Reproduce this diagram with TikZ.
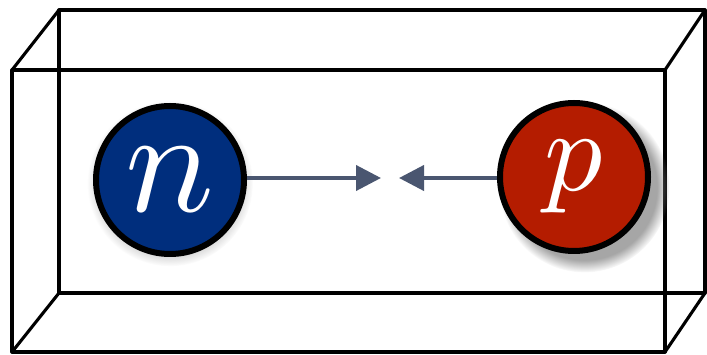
\documentclass[tikz,border=0pt]{standalone}
\usetikzlibrary{arrows.meta,shadows}
\definecolor{nblue}{RGB}{0,46,125}
\definecolor{pred}{RGB}{180,28,0}
\definecolor{arrowc}{RGB}{74,86,112}
\tikzset{
  boxline/.style={line width=3.1pt, line cap=round, line join=round},
  particle/.style={circle, draw=black, line width=6pt, minimum size=148pt, inner sep=0pt, text=white},
  force/.style={arrowc, line width=4pt, -{Triangle[length=25pt,width=25pt]}}
}
\begin{document}
\begin{tikzpicture}[x=1pt,y=-1pt]
\useasboundingbox (0,0) rectangle (707,355);
% back face corners
\coordinate (b1) at (59,10);
\coordinate (b2) at (705,10);
\coordinate (b3) at (705,293);
\coordinate (b4) at (59,293);
% front face corners
\coordinate (f1) at (12,70);
\coordinate (f2) at (665,70);
\coordinate (f3) at (665,352);
\coordinate (f4) at (12,352);
\draw[boxline] (b1) -- (b2) -- (b3) -- (b4) -- cycle;
\draw[boxline] (f1) -- (f2) -- (f3) -- (f4) -- cycle;
\draw[boxline] (f1) -- (b1);
\draw[boxline] (f2) -- (b2);
\draw[boxline] (f3) -- (b3);
\draw[boxline] (f4) -- (b4);
% particles
\node[particle, fill=nblue, circular drop shadow={shadow xshift=0pt, shadow yshift=-3pt, shadow scale=1.12, opacity=0.35}] (n) at (170,180) {\scalebox{14.8}{$n$}};
\node[particle, fill=pred, circular drop shadow={shadow xshift=9pt, shadow yshift=-9pt, shadow scale=1.15, opacity=0.7}] (p) at (574,177) {\scalebox{11.6}{$p$}};
\coordinate (nt) at (381,178);
\coordinate (pt) at (399,178);
\draw[force] (n.east |- nt) -- (nt);
\draw[force] (p.west |- pt) -- (pt);
\end{tikzpicture}
\end{document}
